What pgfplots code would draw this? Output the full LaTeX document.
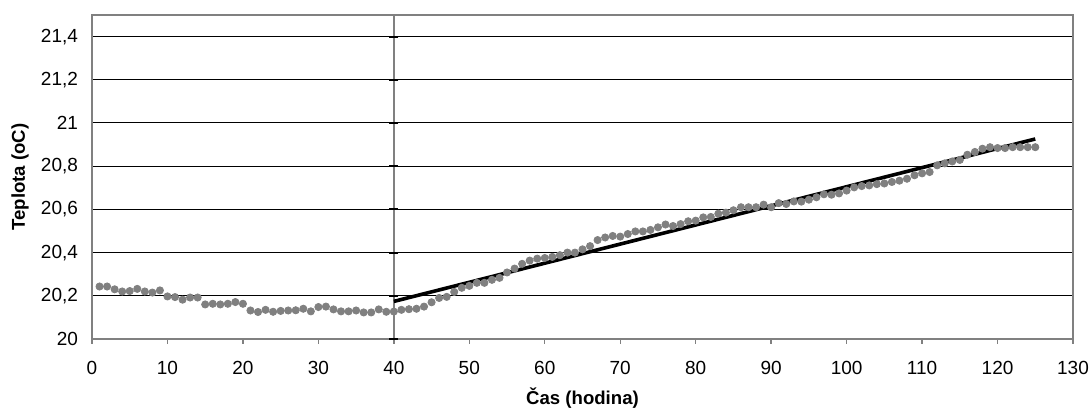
\documentclass[border=0pt]{standalone}
\usepackage{fontspec}
\setmainfont{Liberation Sans}
\usepackage{pgfplots}
\pgfplotsset{compat=1.18}
\usetikzlibrary{calc}
\definecolor{dotgray}{RGB}{128,128,128}
\definecolor{framegray}{RGB}{128,128,128}

\begin{document}
\begin{tikzpicture}
\begin{axis}[
  name=ax, scale only axis,
  width=490.5pt, height=162pt,
  xmin=0, xmax=130, ymin=20, ymax=21.5,
  xtick={0,10,20,30,40,50,60,70,80,90,100,110,120,130},
  ytick={20,20.2,20.4,20.6,20.8,21,21.2,21.4},
  axis line style={framegray, line width=0.7pt},
  ymajorgrids, grid style={black, line width=0.5pt},
  ytick style={draw=none},
  xtick style={framegray, line width=0.7pt},
  tick align=outside, major tick length=2.5pt,
  xtick pos=bottom, ytick pos=left,
  /pgf/number format/use comma,
  /pgf/number format/assume math mode=true,
  tick label style={font=\fontsize{9.5}{11}\selectfont},
  xticklabel style={yshift=-5pt},
  yticklabel style={xshift=-1pt},
  xlabel={Čas (hodina)}, ylabel={Teplota (oC)},
  label style={font=\fontsize{9.3}{11}\selectfont\bfseries},
  xlabel style={at={(axis description cs:0.5,0)}, anchor=center, yshift=-29.5pt},
  ylabel style={at={(axis description cs:-0.0734,0.5)}, anchor=center, rotate=0},
  clip=false]
% vertical axis crossing at x = 40
\addplot[framegray, line width=0.7pt] coordinates {(40,20) (40,21.5)};
\addplot[only marks, mark=-, mark size=2.2pt, mark options={black, line width=1pt}]
  coordinates {(40,20) (40,20.2) (40,20.4) (40,20.6) (40,20.8) (40,21) (40,21.2) (40,21.4)};
% measured temperature
\addplot[only marks, mark=*, mark size=1.8pt, mark options={draw=dotgray, fill=dotgray}]
  table {
1 20.243
2 20.243
3 20.230
4 20.220
5 20.222
6 20.232
7 20.220
8 20.215
9 20.225
10 20.197
11 20.194
12 20.182
13 20.192
14 20.192
15 20.160
16 20.163
17 20.160
18 20.163
19 20.171
20 20.163
21 20.132
22 20.125
23 20.135
24 20.126
25 20.130
26 20.132
27 20.133
28 20.140
29 20.128
30 20.148
31 20.150
32 20.137
33 20.128
34 20.128
35 20.132
36 20.123
37 20.123
38 20.137
39 20.126
40 20.127
41 20.135
42 20.138
43 20.140
44 20.150
45 20.170
46 20.190
47 20.195
48 20.218
49 20.237
50 20.246
51 20.260
52 20.260
53 20.274
54 20.283
55 20.308
56 20.326
57 20.348
58 20.363
59 20.372
60 20.375
61 20.380
62 20.388
63 20.400
64 20.400
65 20.415
66 20.430
67 20.458
68 20.470
69 20.477
70 20.474
71 20.486
72 20.498
73 20.498
74 20.505
75 20.517
76 20.530
77 20.523
78 20.532
79 20.545
80 20.548
81 20.563
82 20.565
83 20.580
84 20.585
85 20.596
86 20.610
87 20.610
88 20.610
89 20.622
90 20.610
91 20.629
92 20.625
93 20.637
94 20.636
95 20.645
96 20.656
97 20.670
98 20.668
99 20.674
100 20.687
101 20.702
102 20.708
103 20.711
104 20.717
105 20.720
106 20.727
107 20.733
108 20.742
109 20.758
110 20.767
111 20.773
112 20.804
113 20.813
114 20.822
115 20.829
116 20.853
117 20.866
118 20.881
119 20.888
120 20.884
121 20.884
122 20.888
123 20.888
124 20.888
125 20.888
};
% linear trend from hour 40
\addplot[black, line width=1.8pt] coordinates {(40,20.174) (125,20.926)};
\end{axis}
\pgfresetboundingbox
\path[use as bounding box] ($(ax.south west)+(-46pt,-35.5pt)$) rectangle ($(ax.north east)+(8.5pt,7.5pt)$);
\end{tikzpicture}
\end{document}
